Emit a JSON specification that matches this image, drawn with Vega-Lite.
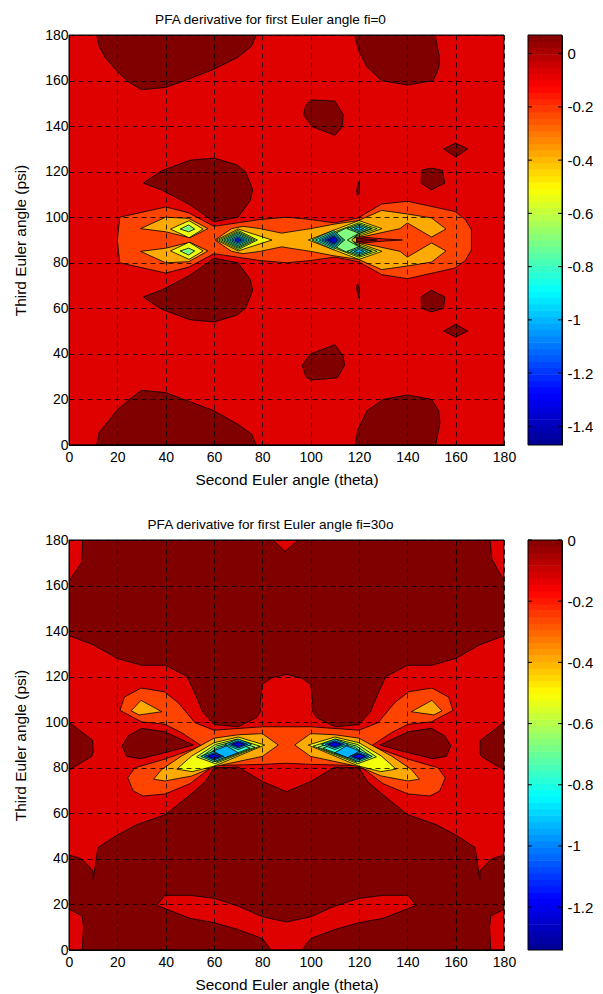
{"$schema":"https://vega.github.io/schema/vega-lite/v6.json","padding":{"left":13,"top":13,"right":0,"bottom":0},"spacing":30,"config":{"font":"Liberation Sans","view":{"stroke":null},"title":{"font":"Liberation Sans","fontSize":13.6,"fontWeight":"normal","color":"#000","offset":1},"axis":{"labelFont":"Liberation Sans","titleFont":"Liberation Sans","labelFontSize":14,"titleFontSize":15.4,"titleFontWeight":"normal","labelColor":"#000","titleColor":"#000"}},
"datasets":{
"bar1":[{"v":-1.458},{"v":-1.434},{"v":-1.41},{"v":-1.386},{"v":-1.362},{"v":-1.338},{"v":-1.314},{"v":-1.29},{"v":-1.265},{"v":-1.241},{"v":-1.217},{"v":-1.193},{"v":-1.169},{"v":-1.145},{"v":-1.121},{"v":-1.097},{"v":-1.073},{"v":-1.049},{"v":-1.025},{"v":-1.001},{"v":-0.977},{"v":-0.953},{"v":-0.929},{"v":-0.905},{"v":-0.881},{"v":-0.856},{"v":-0.832},{"v":-0.808},{"v":-0.784},{"v":-0.76},{"v":-0.736},{"v":-0.712},{"v":-0.688},{"v":-0.664},{"v":-0.64},{"v":-0.616},{"v":-0.592},{"v":-0.568},{"v":-0.544},{"v":-0.52},{"v":-0.496},{"v":-0.472},{"v":-0.447},{"v":-0.423},{"v":-0.399},{"v":-0.375},{"v":-0.351},{"v":-0.327},{"v":-0.303},{"v":-0.279},{"v":-0.255},{"v":-0.231},{"v":-0.207},{"v":-0.183},{"v":-0.159},{"v":-0.135},{"v":-0.111},{"v":-0.087},{"v":-0.063},{"v":-0.039},{"v":-0.015},{"v":0.009},{"v":0.033},{"v":0.057}],
"bar2":[{"v":-1.33},{"v":-1.309},{"v":-1.288},{"v":-1.267},{"v":-1.246},{"v":-1.225},{"v":-1.204},{"v":-1.183},{"v":-1.162},{"v":-1.142},{"v":-1.121},{"v":-1.1},{"v":-1.079},{"v":-1.058},{"v":-1.037},{"v":-1.016},{"v":-0.995},{"v":-0.974},{"v":-0.953},{"v":-0.932},{"v":-0.911},{"v":-0.89},{"v":-0.869},{"v":-0.848},{"v":-0.827},{"v":-0.806},{"v":-0.786},{"v":-0.765},{"v":-0.744},{"v":-0.723},{"v":-0.702},{"v":-0.681},{"v":-0.66},{"v":-0.639},{"v":-0.618},{"v":-0.597},{"v":-0.576},{"v":-0.555},{"v":-0.534},{"v":-0.513},{"v":-0.492},{"v":-0.471},{"v":-0.45},{"v":-0.43},{"v":-0.409},{"v":-0.388},{"v":-0.367},{"v":-0.346},{"v":-0.325},{"v":-0.304},{"v":-0.283},{"v":-0.262},{"v":-0.241},{"v":-0.22},{"v":-0.199},{"v":-0.178},{"v":-0.157},{"v":-0.136},{"v":-0.115},{"v":-0.094},{"v":-0.073},{"v":-0.052},{"v":-0.031},{"v":-0.01}],
"frame":[{"a":0,"b":180,"c":0,"d":180}],
"ticks1":[{"v":0},{"v":-0.2},{"v":-0.4},{"v":-0.6},{"v":-0.8},{"v":-1},{"v":-1.2},{"v":-1.4}],
"ticks2":[{"v":0},{"v":-0.2},{"v":-0.4},{"v":-0.6},{"v":-0.8},{"v":-1},{"v":-1.2}],
"p1":[
{"g":0,"v":-0.074,"x":0,"y":0},{"g":0,"v":-0.074,"x":180,"y":0},{"g":0,"v":-0.074,"x":180,"y":180},{"g":0,"v":-0.074,"x":0,"y":180},
{"g":1,"v":0.07,"x":11.5,"y":180},{"g":1,"v":0.07,"x":12.5,"y":175},{"g":1,"v":0.07,"x":15,"y":170},{"g":1,"v":0.07,"x":20,"y":164},{"g":1,"v":0.07,"x":24.5,"y":159.5},{"g":1,"v":0.07,"x":30,"y":156},{"g":1,"v":0.07,"x":40,"y":157},{"g":1,"v":0.07,"x":48,"y":160},{"g":1,"v":0.07,"x":60,"y":165},{"g":1,"v":0.07,"x":69.5,"y":170},{"g":1,"v":0.07,"x":75.5,"y":175},{"g":1,"v":0.07,"x":77.5,"y":180},{"g":1,"v":0.07,"x":11.5,"y":180},
{"g":2,"v":0.07,"x":118.3,"y":180},{"g":2,"v":0.07,"x":119.7,"y":173.5},{"g":2,"v":0.07,"x":123.3,"y":166},{"g":2,"v":0.07,"x":129.4,"y":160},{"g":2,"v":0.07,"x":140,"y":158},{"g":2,"v":0.07,"x":150.7,"y":160},{"g":2,"v":0.07,"x":153,"y":165.5},{"g":2,"v":0.07,"x":153.3,"y":170},{"g":2,"v":0.07,"x":151.5,"y":180},{"g":2,"v":0.07,"x":118.3,"y":180},
{"g":3,"v":0.07,"x":100,"y":151.5},{"g":3,"v":0.07,"x":110,"y":151},{"g":3,"v":0.07,"x":113.5,"y":145},{"g":3,"v":0.07,"x":113,"y":139.5},{"g":3,"v":0.07,"x":110,"y":136},{"g":3,"v":0.07,"x":100.7,"y":139.7},{"g":3,"v":0.07,"x":97,"y":145},{"g":3,"v":0.07,"x":98,"y":149},{"g":3,"v":0.07,"x":100,"y":151.5},
{"g":4,"v":0.07,"x":100,"y":40},{"g":4,"v":0.07,"x":110,"y":44},{"g":4,"v":0.07,"x":113.5,"y":39},{"g":4,"v":0.07,"x":114,"y":35},{"g":4,"v":0.07,"x":111,"y":29.5},{"g":4,"v":0.07,"x":100,"y":28.5},{"g":4,"v":0.07,"x":98,"y":30},{"g":4,"v":0.07,"x":96.5,"y":35},{"g":4,"v":0.07,"x":100,"y":40},
{"g":5,"v":0.07,"x":146,"y":120.7},{"g":5,"v":0.07,"x":150,"y":121.6},{"g":5,"v":0.07,"x":154.5,"y":120.5},{"g":5,"v":0.07,"x":155.5,"y":115},{"g":5,"v":0.07,"x":150,"y":112},{"g":5,"v":0.07,"x":145.7,"y":115},{"g":5,"v":0.07,"x":146,"y":120.7},
{"g":6,"v":0.07,"x":150,"y":68},{"g":6,"v":0.07,"x":155.5,"y":65},{"g":6,"v":0.07,"x":155,"y":60},{"g":6,"v":0.07,"x":150,"y":58.5},{"g":6,"v":0.07,"x":146,"y":60},{"g":6,"v":0.07,"x":145.7,"y":65},{"g":6,"v":0.07,"x":150,"y":68},
{"g":7,"v":0.07,"x":160,"y":132.5},{"g":7,"v":0.07,"x":165,"y":130},{"g":7,"v":0.07,"x":160,"y":126.5},{"g":7,"v":0.07,"x":155,"y":130},{"g":7,"v":0.07,"x":160,"y":132.5},
{"g":8,"v":0.07,"x":160,"y":53},{"g":8,"v":0.07,"x":165,"y":50},{"g":8,"v":0.07,"x":160,"y":47.4},{"g":8,"v":0.07,"x":155,"y":50},{"g":8,"v":0.07,"x":160,"y":53},
{"g":9,"v":0.07,"x":120,"y":115.6},{"g":9,"v":0.07,"x":120.3,"y":110.6},{"g":9,"v":0.07,"x":119.4,"y":109.5},{"g":9,"v":0.07,"x":119,"y":112},{"g":9,"v":0.07,"x":120,"y":115.6},
{"g":10,"v":0.07,"x":119.4,"y":70.7},{"g":10,"v":0.07,"x":120,"y":70},{"g":10,"v":0.07,"x":120,"y":64.5},{"g":10,"v":0.07,"x":119,"y":69},{"g":10,"v":0.07,"x":119.4,"y":70.7},
{"g":11,"v":0.07,"x":30.7,"y":115},{"g":11,"v":0.07,"x":38.3,"y":120.4},{"g":11,"v":0.07,"x":50,"y":125},{"g":11,"v":0.07,"x":60,"y":126},{"g":11,"v":0.07,"x":69.4,"y":123},{"g":11,"v":0.07,"x":73,"y":120},{"g":11,"v":0.07,"x":75,"y":115},{"g":11,"v":0.07,"x":76,"y":112},{"g":11,"v":0.07,"x":75,"y":107.5},{"g":11,"v":0.07,"x":70,"y":100},{"g":11,"v":0.07,"x":60,"y":98},{"g":11,"v":0.07,"x":50,"y":105.5},{"g":11,"v":0.07,"x":38.3,"y":112},{"g":11,"v":0.07,"x":30.7,"y":115},
{"g":12,"v":0.07,"x":30.7,"y":65},{"g":12,"v":0.07,"x":38.3,"y":68},{"g":12,"v":0.07,"x":50,"y":74.5},{"g":12,"v":0.07,"x":60,"y":82},{"g":12,"v":0.07,"x":70,"y":80},{"g":12,"v":0.07,"x":75,"y":72.5},{"g":12,"v":0.07,"x":76,"y":68},{"g":12,"v":0.07,"x":75,"y":65},{"g":12,"v":0.07,"x":73,"y":60},{"g":12,"v":0.07,"x":69.4,"y":57},{"g":12,"v":0.07,"x":60,"y":54},{"g":12,"v":0.07,"x":50,"y":55},{"g":12,"v":0.07,"x":38.3,"y":59.6},{"g":12,"v":0.07,"x":30.7,"y":65},
{"g":13,"v":0.07,"x":11.5,"y":0},{"g":13,"v":0.07,"x":12.5,"y":5.5},{"g":13,"v":0.07,"x":20,"y":15.4},{"g":13,"v":0.07,"x":24.4,"y":19.5},{"g":13,"v":0.07,"x":30,"y":24},{"g":13,"v":0.07,"x":40,"y":23},{"g":13,"v":0.07,"x":50,"y":19},{"g":13,"v":0.07,"x":60,"y":15},{"g":13,"v":0.07,"x":70,"y":9},{"g":13,"v":0.07,"x":75.6,"y":4.8},{"g":13,"v":0.07,"x":77.5,"y":0},{"g":13,"v":0.07,"x":11.5,"y":0},
{"g":14,"v":0.07,"x":118.5,"y":0},{"g":14,"v":0.07,"x":119.5,"y":6.6},{"g":14,"v":0.07,"x":123.3,"y":15},{"g":14,"v":0.07,"x":130,"y":20},{"g":14,"v":0.07,"x":140,"y":22},{"g":14,"v":0.07,"x":150,"y":20},{"g":14,"v":0.07,"x":153,"y":15},{"g":14,"v":0.07,"x":153.5,"y":9.5},{"g":14,"v":0.07,"x":151.7,"y":0},{"g":14,"v":0.07,"x":118.5,"y":0},
{"g":15,"v":-0.226,"x":20,"y":90},{"g":15,"v":-0.226,"x":21,"y":100},{"g":15,"v":-0.226,"x":29.4,"y":102},{"g":15,"v":-0.226,"x":40,"y":104.5},{"g":15,"v":-0.226,"x":49.4,"y":102},{"g":15,"v":-0.226,"x":60,"y":96},{"g":15,"v":-0.226,"x":79,"y":99},{"g":15,"v":-0.226,"x":90,"y":100},{"g":15,"v":-0.226,"x":100,"y":99},{"g":15,"v":-0.226,"x":110,"y":97.5},{"g":15,"v":-0.226,"x":119.7,"y":99.7},{"g":15,"v":-0.226,"x":129.4,"y":105.8},{"g":15,"v":-0.226,"x":140,"y":107},{"g":15,"v":-0.226,"x":159.7,"y":102.5},{"g":15,"v":-0.226,"x":164,"y":99},{"g":15,"v":-0.226,"x":166.5,"y":94.5},{"g":15,"v":-0.226,"x":166.5,"y":85.6},{"g":15,"v":-0.226,"x":164,"y":81},{"g":15,"v":-0.226,"x":159.7,"y":77.7},{"g":15,"v":-0.226,"x":140,"y":73},{"g":15,"v":-0.226,"x":129.4,"y":74.8},{"g":15,"v":-0.226,"x":119.7,"y":80.5},{"g":15,"v":-0.226,"x":110,"y":82.5},{"g":15,"v":-0.226,"x":100,"y":81},{"g":15,"v":-0.226,"x":90,"y":80},{"g":15,"v":-0.226,"x":79,"y":81},{"g":15,"v":-0.226,"x":60,"y":84},{"g":15,"v":-0.226,"x":49.4,"y":78},{"g":15,"v":-0.226,"x":40,"y":75.5},{"g":15,"v":-0.226,"x":29.4,"y":78},{"g":15,"v":-0.226,"x":21,"y":80},{"g":15,"v":-0.226,"x":20,"y":90},
{"g":16,"v":-0.379,"x":29.6,"y":95},{"g":16,"v":-0.379,"x":40,"y":100},{"g":16,"v":-0.379,"x":49.6,"y":99.5},{"g":16,"v":-0.379,"x":57.5,"y":95},{"g":16,"v":-0.379,"x":50,"y":91},{"g":16,"v":-0.379,"x":40,"y":93.6},{"g":16,"v":-0.379,"x":29.6,"y":95},
{"g":17,"v":-0.379,"x":29.6,"y":85},{"g":17,"v":-0.379,"x":40,"y":86.4},{"g":17,"v":-0.379,"x":50,"y":89},{"g":17,"v":-0.379,"x":57.5,"y":85.2},{"g":17,"v":-0.379,"x":49.6,"y":80.5},{"g":17,"v":-0.379,"x":40,"y":80},{"g":17,"v":-0.379,"x":29.6,"y":85},
{"g":18,"v":-0.53,"x":42,"y":94.8},{"g":18,"v":-0.53,"x":49.7,"y":98.5},{"g":18,"v":-0.53,"x":55.5,"y":94.8},{"g":18,"v":-0.53,"x":49.7,"y":91},{"g":18,"v":-0.53,"x":42,"y":94.8},
{"g":19,"v":-0.7,"x":46,"y":94.8},{"g":19,"v":-0.7,"x":49.5,"y":96.6},{"g":19,"v":-0.7,"x":52,"y":94.8},{"g":19,"v":-0.7,"x":49.5,"y":93.6},{"g":19,"v":-0.7,"x":46,"y":94.8},
{"g":20,"v":-0.53,"x":42,"y":85.2},{"g":20,"v":-0.53,"x":49.7,"y":81.5},{"g":20,"v":-0.53,"x":55.5,"y":85.2},{"g":20,"v":-0.53,"x":49.7,"y":89},{"g":20,"v":-0.53,"x":42,"y":85.2},
{"g":21,"v":-0.7,"x":46,"y":85.2},{"g":21,"v":-0.7,"x":49.5,"y":83.4},{"g":21,"v":-0.7,"x":52,"y":85.2},{"g":21,"v":-0.7,"x":49.5,"y":86.4},{"g":21,"v":-0.7,"x":46,"y":85.2},
{"g":22,"v":-0.379,"x":60.4,"y":90},{"g":22,"v":-0.379,"x":67.3,"y":95},{"g":22,"v":-0.379,"x":72,"y":96},{"g":22,"v":-0.379,"x":79,"y":95},{"g":22,"v":-0.379,"x":88,"y":93},{"g":22,"v":-0.379,"x":91.5,"y":93.6},{"g":22,"v":-0.379,"x":100,"y":95},{"g":22,"v":-0.379,"x":110,"y":97},{"g":22,"v":-0.379,"x":119.7,"y":98.5},{"g":22,"v":-0.379,"x":129.4,"y":103},{"g":22,"v":-0.379,"x":140,"y":101.4},{"g":22,"v":-0.379,"x":150,"y":99.7},{"g":22,"v":-0.379,"x":156,"y":94.8},{"g":22,"v":-0.379,"x":150,"y":91.3},{"g":22,"v":-0.379,"x":140,"y":97.5},{"g":22,"v":-0.379,"x":137,"y":95},{"g":22,"v":-0.379,"x":119.7,"y":91},{"g":22,"v":-0.379,"x":119.7,"y":89},{"g":22,"v":-0.379,"x":137,"y":85},{"g":22,"v":-0.379,"x":140,"y":82.5},{"g":22,"v":-0.379,"x":150,"y":88.7},{"g":22,"v":-0.379,"x":156,"y":85.2},{"g":22,"v":-0.379,"x":150,"y":80.3},{"g":22,"v":-0.379,"x":140,"y":78.6},{"g":22,"v":-0.379,"x":129.4,"y":77},{"g":22,"v":-0.379,"x":119.7,"y":81.5},{"g":22,"v":-0.379,"x":110,"y":83},{"g":22,"v":-0.379,"x":100,"y":85},{"g":22,"v":-0.379,"x":91.5,"y":86.4},{"g":22,"v":-0.379,"x":88,"y":87},{"g":22,"v":-0.379,"x":79,"y":85},{"g":22,"v":-0.379,"x":72,"y":84},{"g":22,"v":-0.379,"x":67.3,"y":85},{"g":22,"v":-0.379,"x":60.4,"y":90},
{"g":23,"v":-0.074,"x":119,"y":91.5},{"g":23,"v":-0.074,"x":130,"y":90.5},{"g":23,"v":-0.074,"x":138,"y":90},{"g":23,"v":-0.074,"x":130,"y":89.5},{"g":23,"v":-0.074,"x":119,"y":88.5},{"g":23,"v":-0.074,"x":119,"y":91.5},
{"g":24,"v":0.07,"x":119,"y":90.8},{"g":24,"v":0.07,"x":127.5,"y":90},{"g":24,"v":0.07,"x":119,"y":89.2},{"g":24,"v":0.07,"x":119,"y":90.8},
{"g":25,"v":-0.53,"x":61,"y":90},{"g":25,"v":-0.53,"x":70,"y":94.8},{"g":25,"v":-0.53,"x":79,"y":91.7},{"g":25,"v":-0.53,"x":84,"y":90},{"g":25,"v":-0.53,"x":79,"y":88.3},{"g":25,"v":-0.53,"x":70,"y":85.2},{"g":25,"v":-0.53,"x":61,"y":90},
{"g":26,"v":-0.6,"x":62,"y":90},{"g":26,"v":-0.6,"x":70,"y":94.2},{"g":26,"v":-0.6,"x":78,"y":90},{"g":26,"v":-0.6,"x":70,"y":85.8},{"g":26,"v":-0.6,"x":62,"y":90},
{"g":27,"v":-0.68,"x":63.1,"y":90},{"g":27,"v":-0.68,"x":70,"y":93.6},{"g":27,"v":-0.68,"x":76.9,"y":90},{"g":27,"v":-0.68,"x":70,"y":86.4},{"g":27,"v":-0.68,"x":63.1,"y":90},
{"g":28,"v":-0.76,"x":64.2,"y":90},{"g":28,"v":-0.76,"x":70,"y":93.1},{"g":28,"v":-0.76,"x":75.8,"y":90},{"g":28,"v":-0.76,"x":70,"y":86.9},{"g":28,"v":-0.76,"x":64.2,"y":90},
{"g":29,"v":-0.84,"x":65.3,"y":90},{"g":29,"v":-0.84,"x":70,"y":92.5},{"g":29,"v":-0.84,"x":74.7,"y":90},{"g":29,"v":-0.84,"x":70,"y":87.5},{"g":29,"v":-0.84,"x":65.3,"y":90},
{"g":30,"v":-0.95,"x":66.4,"y":90},{"g":30,"v":-0.95,"x":70,"y":91.9},{"g":30,"v":-0.95,"x":73.6,"y":90},{"g":30,"v":-0.95,"x":70,"y":88.1},{"g":30,"v":-0.95,"x":66.4,"y":90},
{"g":31,"v":-1.05,"x":67.5,"y":90},{"g":31,"v":-1.05,"x":70,"y":91.3},{"g":31,"v":-1.05,"x":72.5,"y":90},{"g":31,"v":-1.05,"x":70,"y":88.7},{"g":31,"v":-1.05,"x":67.5,"y":90},
{"g":32,"v":-1.25,"x":68.6,"y":90},{"g":32,"v":-1.25,"x":70,"y":90.8},{"g":32,"v":-1.25,"x":71.4,"y":90},{"g":32,"v":-1.25,"x":70,"y":89.2},{"g":32,"v":-1.25,"x":68.6,"y":90},
{"g":33,"v":-0.53,"x":99,"y":90},{"g":33,"v":-0.53,"x":120,"y":98.5},{"g":33,"v":-0.53,"x":129.5,"y":95},{"g":33,"v":-0.53,"x":120,"y":91.5},{"g":33,"v":-0.53,"x":115.5,"y":90},{"g":33,"v":-0.53,"x":120,"y":88.5},{"g":33,"v":-0.53,"x":129.5,"y":85},{"g":33,"v":-0.53,"x":120,"y":81.5},{"g":33,"v":-0.53,"x":99,"y":90},
{"g":34,"v":-0.58,"x":101,"y":90},{"g":34,"v":-0.58,"x":120,"y":97.6},{"g":34,"v":-0.58,"x":127.5,"y":95},{"g":34,"v":-0.58,"x":120,"y":92.2},{"g":34,"v":-0.58,"x":116,"y":90},{"g":34,"v":-0.58,"x":120,"y":87.8},{"g":34,"v":-0.58,"x":127.5,"y":85},{"g":34,"v":-0.58,"x":120,"y":82.4},{"g":34,"v":-0.58,"x":101,"y":90},
{"g":35,"v":-0.63,"x":103,"y":90},{"g":35,"v":-0.63,"x":120,"y":96.8},{"g":35,"v":-0.63,"x":125.5,"y":95},{"g":35,"v":-0.63,"x":120,"y":92.8},{"g":35,"v":-0.63,"x":116.5,"y":90},{"g":35,"v":-0.63,"x":120,"y":87.2},{"g":35,"v":-0.63,"x":125.5,"y":85},{"g":35,"v":-0.63,"x":120,"y":83.2},{"g":35,"v":-0.63,"x":103,"y":90},
{"g":36,"v":-0.67,"x":105,"y":90},{"g":36,"v":-0.67,"x":119,"y":96.2},{"g":36,"v":-0.67,"x":124,"y":95},{"g":36,"v":-0.67,"x":120,"y":93.2},{"g":36,"v":-0.67,"x":117,"y":90},{"g":36,"v":-0.67,"x":120,"y":86.8},{"g":36,"v":-0.67,"x":124,"y":85},{"g":36,"v":-0.67,"x":119,"y":83.8},{"g":36,"v":-0.67,"x":105,"y":90},
{"g":37,"v":-0.7,"x":110.3,"y":93},{"g":37,"v":-0.7,"x":115.2,"y":95.5},{"g":37,"v":-0.7,"x":120,"y":93},{"g":37,"v":-0.7,"x":115.2,"y":90},{"g":37,"v":-0.7,"x":120,"y":87},{"g":37,"v":-0.7,"x":115.2,"y":84.5},{"g":37,"v":-0.7,"x":110.3,"y":87},{"g":37,"v":-0.7,"x":114,"y":90},{"g":37,"v":-0.7,"x":110.3,"y":93},
{"g":38,"v":-0.75,"x":100.5,"y":90},{"g":38,"v":-0.75,"x":109.5,"y":94.3},{"g":38,"v":-0.75,"x":114,"y":90},{"g":38,"v":-0.75,"x":109.5,"y":85.7},{"g":38,"v":-0.75,"x":100.5,"y":90},
{"g":39,"v":-0.85,"x":102,"y":90},{"g":39,"v":-0.85,"x":109.5,"y":93.6},{"g":39,"v":-0.85,"x":113.3,"y":90},{"g":39,"v":-0.85,"x":109.5,"y":86.4},{"g":39,"v":-0.85,"x":102,"y":90},
{"g":40,"v":-0.95,"x":103.5,"y":90},{"g":40,"v":-0.95,"x":109.5,"y":93},{"g":40,"v":-0.95,"x":112.6,"y":90},{"g":40,"v":-0.95,"x":109.5,"y":87},{"g":40,"v":-0.95,"x":103.5,"y":90},
{"g":41,"v":-1.05,"x":104.7,"y":90},{"g":41,"v":-1.05,"x":109.5,"y":92.4},{"g":41,"v":-1.05,"x":112,"y":90},{"g":41,"v":-1.05,"x":109.5,"y":87.6},{"g":41,"v":-1.05,"x":104.7,"y":90},
{"g":42,"v":-1.15,"x":105.9,"y":90},{"g":42,"v":-1.15,"x":109.5,"y":91.8},{"g":42,"v":-1.15,"x":111.4,"y":90},{"g":42,"v":-1.15,"x":109.5,"y":88.2},{"g":42,"v":-1.15,"x":105.9,"y":90},
{"g":43,"v":-1.3,"x":107.1,"y":90},{"g":43,"v":-1.3,"x":109.5,"y":91.2},{"g":43,"v":-1.3,"x":110.8,"y":90},{"g":43,"v":-1.3,"x":109.5,"y":88.8},{"g":43,"v":-1.3,"x":107.1,"y":90},
{"g":44,"v":-0.75,"x":115,"y":95},{"g":44,"v":-0.75,"x":120,"y":97},{"g":44,"v":-0.75,"x":125,"y":95},{"g":44,"v":-0.75,"x":120,"y":93},{"g":44,"v":-0.75,"x":115,"y":95},
{"g":45,"v":-0.85,"x":116.5,"y":95},{"g":45,"v":-0.85,"x":120,"y":96.4},{"g":45,"v":-0.85,"x":123.5,"y":95},{"g":45,"v":-0.85,"x":120,"y":93.6},{"g":45,"v":-0.85,"x":116.5,"y":95},
{"g":46,"v":-1.01,"x":118,"y":95},{"g":46,"v":-1.01,"x":120,"y":95.8},{"g":46,"v":-1.01,"x":122,"y":95},{"g":46,"v":-1.01,"x":120,"y":94.2},{"g":46,"v":-1.01,"x":118,"y":95},
{"g":47,"v":-0.75,"x":115,"y":85},{"g":47,"v":-0.75,"x":120,"y":87},{"g":47,"v":-0.75,"x":125,"y":85},{"g":47,"v":-0.75,"x":120,"y":83},{"g":47,"v":-0.75,"x":115,"y":85},
{"g":48,"v":-0.85,"x":116.5,"y":85},{"g":48,"v":-0.85,"x":120,"y":86.4},{"g":48,"v":-0.85,"x":123.5,"y":85},{"g":48,"v":-0.85,"x":120,"y":83.6},{"g":48,"v":-0.85,"x":116.5,"y":85},
{"g":49,"v":-1.01,"x":118,"y":85},{"g":49,"v":-1.01,"x":120,"y":85.8},{"g":49,"v":-1.01,"x":122,"y":85},{"g":49,"v":-1.01,"x":120,"y":84.2},{"g":49,"v":-1.01,"x":118,"y":85}
],
"p2":[
{"g":0,"v":-0.125,"x":0,"y":0},{"g":0,"v":-0.125,"x":180,"y":0},{"g":0,"v":-0.125,"x":180,"y":180},{"g":0,"v":-0.125,"x":0,"y":180},
{"g":1,"v":0,"x":0,"y":162},{"g":1,"v":0,"x":5.2,"y":170},{"g":1,"v":0,"x":5.7,"y":180},{"g":1,"v":0,"x":84.4,"y":180},{"g":1,"v":0,"x":89.4,"y":175},{"g":1,"v":0,"x":95,"y":180},{"g":1,"v":0,"x":174.2,"y":180},{"g":1,"v":0,"x":175,"y":171.6},{"g":1,"v":0,"x":180,"y":162},{"g":1,"v":0,"x":180,"y":138},{"g":1,"v":0,"x":170,"y":134},{"g":1,"v":0,"x":160,"y":128},{"g":1,"v":0,"x":150,"y":125},{"g":1,"v":0,"x":140,"y":125},{"g":1,"v":0,"x":131,"y":120},{"g":1,"v":0,"x":125.6,"y":107},{"g":1,"v":0,"x":125,"y":105},{"g":1,"v":0,"x":120,"y":99},{"g":1,"v":0,"x":110,"y":98},{"g":1,"v":0,"x":102.5,"y":102},{"g":1,"v":0,"x":100.7,"y":105},{"g":1,"v":0,"x":101,"y":107},{"g":1,"v":0,"x":100,"y":116.7},{"g":1,"v":0,"x":96,"y":119.5},{"g":1,"v":0,"x":90,"y":121},{"g":1,"v":0,"x":84,"y":119.5},{"g":1,"v":0,"x":80,"y":116.7},{"g":1,"v":0,"x":79,"y":107},{"g":1,"v":0,"x":79.3,"y":105},{"g":1,"v":0,"x":77.5,"y":102},{"g":1,"v":0,"x":70,"y":98},{"g":1,"v":0,"x":60,"y":99},{"g":1,"v":0,"x":55,"y":105},{"g":1,"v":0,"x":54.4,"y":107},{"g":1,"v":0,"x":49,"y":120},{"g":1,"v":0,"x":40,"y":125},{"g":1,"v":0,"x":30,"y":125},{"g":1,"v":0,"x":20,"y":128},{"g":1,"v":0,"x":10,"y":134},{"g":1,"v":0,"x":0,"y":138},{"g":1,"v":0,"x":0,"y":162},
{"g":2,"v":0,"x":12,"y":45},{"g":2,"v":0,"x":20,"y":50.5},{"g":2,"v":0,"x":28,"y":55},{"g":2,"v":0,"x":40,"y":59.5},{"g":2,"v":0,"x":52,"y":69.8},{"g":2,"v":0,"x":56.5,"y":74},{"g":2,"v":0,"x":60,"y":80},{"g":2,"v":0,"x":70,"y":80.3},{"g":2,"v":0,"x":80,"y":74},{"g":2,"v":0,"x":90,"y":69.5},{"g":2,"v":0,"x":100,"y":74},{"g":2,"v":0,"x":110,"y":80.3},{"g":2,"v":0,"x":120,"y":80},{"g":2,"v":0,"x":123.5,"y":74},{"g":2,"v":0,"x":128,"y":69.8},{"g":2,"v":0,"x":140,"y":59.5},{"g":2,"v":0,"x":152,"y":55},{"g":2,"v":0,"x":160,"y":50.5},{"g":2,"v":0,"x":168,"y":45},{"g":2,"v":0,"x":170,"y":31},{"g":2,"v":0,"x":170,"y":34.7},{"g":2,"v":0,"x":174.8,"y":40},{"g":2,"v":0,"x":180,"y":41.7},{"g":2,"v":0,"x":180,"y":17.9},{"g":2,"v":0,"x":174.5,"y":14.9},{"g":2,"v":0,"x":174,"y":9.8},{"g":2,"v":0,"x":174.5,"y":0},{"g":2,"v":0,"x":96.4,"y":0},{"g":2,"v":0,"x":100,"y":5},{"g":2,"v":0,"x":110,"y":9},{"g":2,"v":0,"x":120,"y":12},{"g":2,"v":0,"x":130,"y":13.9},{"g":2,"v":0,"x":143.7,"y":19.6},{"g":2,"v":0,"x":140.3,"y":24},{"g":2,"v":0,"x":130,"y":24},{"g":2,"v":0,"x":120,"y":22.7},{"g":2,"v":0,"x":110,"y":19.3},{"g":2,"v":0,"x":100,"y":14.6},{"g":2,"v":0,"x":90,"y":12.3},{"g":2,"v":0,"x":80,"y":14.6},{"g":2,"v":0,"x":70,"y":19.3},{"g":2,"v":0,"x":60,"y":22.7},{"g":2,"v":0,"x":50,"y":24},{"g":2,"v":0,"x":39.7,"y":24},{"g":2,"v":0,"x":36.3,"y":19.6},{"g":2,"v":0,"x":50,"y":13.9},{"g":2,"v":0,"x":60,"y":12},{"g":2,"v":0,"x":70,"y":9},{"g":2,"v":0,"x":80,"y":5},{"g":2,"v":0,"x":83.6,"y":0},{"g":2,"v":0,"x":5.5,"y":0},{"g":2,"v":0,"x":6,"y":9.8},{"g":2,"v":0,"x":5.5,"y":14.9},{"g":2,"v":0,"x":0,"y":17.9},{"g":2,"v":0,"x":0,"y":41.7},{"g":2,"v":0,"x":5.2,"y":40},{"g":2,"v":0,"x":10,"y":34.7},{"g":2,"v":0,"x":10,"y":31},{"g":2,"v":0,"x":12,"y":45},
{"g":3,"v":0,"x":0,"y":100},{"g":3,"v":0,"x":9.8,"y":92},{"g":3,"v":0,"x":10,"y":87},{"g":3,"v":0,"x":9.4,"y":85},{"g":3,"v":0,"x":0,"y":79},{"g":3,"v":0,"x":0,"y":100},
{"g":4,"v":0,"x":180,"y":100},{"g":4,"v":0,"x":170.2,"y":92},{"g":4,"v":0,"x":170,"y":87},{"g":4,"v":0,"x":170.6,"y":85},{"g":4,"v":0,"x":180,"y":79},{"g":4,"v":0,"x":180,"y":100},
{"g":5,"v":0,"x":30,"y":97.3},{"g":5,"v":0,"x":39.7,"y":95.8},{"g":5,"v":0,"x":51.4,"y":90},{"g":5,"v":0,"x":39.7,"y":86.6},{"g":5,"v":0,"x":29.4,"y":84},{"g":5,"v":0,"x":23.9,"y":85},{"g":5,"v":0,"x":22,"y":89.6},{"g":5,"v":0,"x":24.5,"y":94},{"g":5,"v":0,"x":30,"y":97.3},
{"g":6,"v":0,"x":150,"y":97.3},{"g":6,"v":0,"x":140.3,"y":95.8},{"g":6,"v":0,"x":128.6,"y":90},{"g":6,"v":0,"x":140.3,"y":86.6},{"g":6,"v":0,"x":150.6,"y":84},{"g":6,"v":0,"x":156.1,"y":85},{"g":6,"v":0,"x":158,"y":89.6},{"g":6,"v":0,"x":155.5,"y":94},{"g":6,"v":0,"x":150,"y":97.3},
{"g":7,"v":-0.257,"x":21.1,"y":105.2},{"g":7,"v":-0.257,"x":22.9,"y":111},{"g":7,"v":-0.257,"x":29.8,"y":115},{"g":7,"v":-0.257,"x":39.4,"y":113.4},{"g":7,"v":-0.257,"x":45.2,"y":108.6},{"g":7,"v":-0.257,"x":52.1,"y":99.8},{"g":7,"v":-0.257,"x":60,"y":96.5},{"g":7,"v":-0.257,"x":80,"y":98},{"g":7,"v":-0.257,"x":90,"y":98},{"g":7,"v":-0.257,"x":100,"y":98},{"g":7,"v":-0.257,"x":120,"y":96.5},{"g":7,"v":-0.257,"x":127.9,"y":99.8},{"g":7,"v":-0.257,"x":134.8,"y":108.6},{"g":7,"v":-0.257,"x":140.6,"y":113.4},{"g":7,"v":-0.257,"x":150.2,"y":115},{"g":7,"v":-0.257,"x":157.1,"y":111},{"g":7,"v":-0.257,"x":158.9,"y":105.2},{"g":7,"v":-0.257,"x":150,"y":100.2},{"g":7,"v":-0.257,"x":140.3,"y":99.1},{"g":7,"v":-0.257,"x":133.4,"y":95.4},{"g":7,"v":-0.257,"x":125.1,"y":89.6},{"g":7,"v":-0.257,"x":140.3,"y":83.8},{"g":7,"v":-0.257,"x":152.7,"y":80},{"g":7,"v":-0.257,"x":155.7,"y":75.6},{"g":7,"v":-0.257,"x":153.4,"y":69.8},{"g":7,"v":-0.257,"x":149.3,"y":67.6},{"g":7,"v":-0.257,"x":140.3,"y":68.5},{"g":7,"v":-0.257,"x":130,"y":73},{"g":7,"v":-0.257,"x":120,"y":81},{"g":7,"v":-0.257,"x":100,"y":81.5},{"g":7,"v":-0.257,"x":90,"y":82},{"g":7,"v":-0.257,"x":80,"y":81.5},{"g":7,"v":-0.257,"x":60,"y":81},{"g":7,"v":-0.257,"x":50,"y":73},{"g":7,"v":-0.257,"x":39.7,"y":68.5},{"g":7,"v":-0.257,"x":30.7,"y":67.6},{"g":7,"v":-0.257,"x":26.6,"y":69.8},{"g":7,"v":-0.257,"x":24.3,"y":75.6},{"g":7,"v":-0.257,"x":27.3,"y":80},{"g":7,"v":-0.257,"x":39.7,"y":83.8},{"g":7,"v":-0.257,"x":54.9,"y":89.6},{"g":7,"v":-0.257,"x":46.6,"y":95.4},{"g":7,"v":-0.257,"x":39.7,"y":99.1},{"g":7,"v":-0.257,"x":30,"y":100.2},{"g":7,"v":-0.257,"x":21.1,"y":105.2},
{"g":8,"v":-0.391,"x":29.8,"y":109.6},{"g":8,"v":-0.391,"x":38.4,"y":104.6},{"g":8,"v":-0.391,"x":29,"y":103.2},{"g":8,"v":-0.391,"x":25.7,"y":105},{"g":8,"v":-0.391,"x":29.8,"y":109.6},
{"g":9,"v":-0.391,"x":150.2,"y":109.6},{"g":9,"v":-0.391,"x":141.6,"y":104.6},{"g":9,"v":-0.391,"x":151,"y":103.2},{"g":9,"v":-0.391,"x":154.3,"y":105},{"g":9,"v":-0.391,"x":150.2,"y":109.6},
{"g":10,"v":-0.391,"x":35,"y":75},{"g":10,"v":-0.391,"x":38.4,"y":79.3},{"g":10,"v":-0.391,"x":46.6,"y":85.2},{"g":10,"v":-0.391,"x":60,"y":93},{"g":10,"v":-0.391,"x":70,"y":94.5},{"g":10,"v":-0.391,"x":80,"y":95},{"g":10,"v":-0.391,"x":86.6,"y":90},{"g":10,"v":-0.391,"x":80,"y":85},{"g":10,"v":-0.391,"x":60,"y":80.5},{"g":10,"v":-0.391,"x":50.8,"y":76.4},{"g":10,"v":-0.391,"x":39.7,"y":74.2},{"g":10,"v":-0.391,"x":35,"y":75},
{"g":11,"v":-0.391,"x":145,"y":75},{"g":11,"v":-0.391,"x":141.6,"y":79.3},{"g":11,"v":-0.391,"x":133.4,"y":85.2},{"g":11,"v":-0.391,"x":120,"y":93},{"g":11,"v":-0.391,"x":110,"y":94.5},{"g":11,"v":-0.391,"x":100,"y":95},{"g":11,"v":-0.391,"x":93.4,"y":90},{"g":11,"v":-0.391,"x":100,"y":85},{"g":11,"v":-0.391,"x":120,"y":80.5},{"g":11,"v":-0.391,"x":129.2,"y":76.4},{"g":11,"v":-0.391,"x":140.3,"y":74.2},{"g":11,"v":-0.391,"x":145,"y":75},
{"g":12,"v":-0.52,"x":44.6,"y":79.4},{"g":12,"v":-0.52,"x":50.8,"y":85.2},{"g":12,"v":-0.52,"x":60,"y":91},{"g":12,"v":-0.52,"x":70,"y":93.5},{"g":12,"v":-0.52,"x":81,"y":90},{"g":12,"v":-0.52,"x":60,"y":80.7},{"g":12,"v":-0.52,"x":51,"y":78.3},{"g":12,"v":-0.52,"x":44.6,"y":79.4},
{"g":13,"v":-0.6,"x":52.8,"y":84.8},{"g":13,"v":-0.6,"x":60.5,"y":90.2},{"g":13,"v":-0.6,"x":69.6,"y":92.6},{"g":13,"v":-0.6,"x":79,"y":89.5},{"g":13,"v":-0.6,"x":60.5,"y":81.8},{"g":13,"v":-0.6,"x":52.8,"y":84.8},
{"g":14,"v":-0.68,"x":55,"y":85},{"g":14,"v":-0.68,"x":61,"y":89.5},{"g":14,"v":-0.68,"x":69.2,"y":91.8},{"g":14,"v":-0.68,"x":77,"y":89},{"g":14,"v":-0.68,"x":61,"y":82.6},{"g":14,"v":-0.68,"x":55,"y":85},
{"g":15,"v":-0.76,"x":57,"y":85.3},{"g":15,"v":-0.76,"x":61.5,"y":88.9},{"g":15,"v":-0.76,"x":68.8,"y":91},{"g":15,"v":-0.76,"x":75,"y":88.6},{"g":15,"v":-0.76,"x":61.5,"y":83.4},{"g":15,"v":-0.76,"x":57,"y":85.3},
{"g":16,"v":-0.85,"x":64.5,"y":90.3},{"g":16,"v":-0.85,"x":70,"y":92.6},{"g":16,"v":-0.85,"x":75.5,"y":90.3},{"g":16,"v":-0.85,"x":70,"y":88},{"g":16,"v":-0.85,"x":64.5,"y":90.3},
{"g":17,"v":-0.85,"x":54.5,"y":85},{"g":17,"v":-0.85,"x":60,"y":87.3},{"g":17,"v":-0.85,"x":65.5,"y":85},{"g":17,"v":-0.85,"x":60,"y":82.7},{"g":17,"v":-0.85,"x":54.5,"y":85},
{"g":18,"v":-0.938,"x":59.7,"y":87.4},{"g":18,"v":-0.938,"x":65.2,"y":89.6},{"g":18,"v":-0.938,"x":70,"y":86.6},{"g":18,"v":-0.938,"x":64.5,"y":84.4},{"g":18,"v":-0.938,"x":59.7,"y":87.4},
{"g":19,"v":-1.05,"x":66,"y":90.3},{"g":19,"v":-1.05,"x":70,"y":91.9},{"g":19,"v":-1.05,"x":74,"y":90.3},{"g":19,"v":-1.05,"x":70,"y":88.7},{"g":19,"v":-1.05,"x":66,"y":90.3},
{"g":20,"v":-1.2,"x":67.3,"y":90.3},{"g":20,"v":-1.2,"x":70,"y":91.3},{"g":20,"v":-1.2,"x":72.7,"y":90.3},{"g":20,"v":-1.2,"x":70,"y":89.3},{"g":20,"v":-1.2,"x":67.3,"y":90.3},
{"g":21,"v":-1.05,"x":56,"y":85},{"g":21,"v":-1.05,"x":60,"y":86.6},{"g":21,"v":-1.05,"x":64,"y":85},{"g":21,"v":-1.05,"x":60,"y":83.4},{"g":21,"v":-1.05,"x":56,"y":85},
{"g":22,"v":-1.2,"x":57.3,"y":85},{"g":22,"v":-1.2,"x":60,"y":86},{"g":22,"v":-1.2,"x":62.7,"y":85},{"g":22,"v":-1.2,"x":60,"y":84},{"g":22,"v":-1.2,"x":57.3,"y":85},
{"g":23,"v":-0.52,"x":135.4,"y":79.4},{"g":23,"v":-0.52,"x":129.2,"y":85.2},{"g":23,"v":-0.52,"x":120,"y":91},{"g":23,"v":-0.52,"x":110,"y":93.5},{"g":23,"v":-0.52,"x":99,"y":90},{"g":23,"v":-0.52,"x":120,"y":80.7},{"g":23,"v":-0.52,"x":129,"y":78.3},{"g":23,"v":-0.52,"x":135.4,"y":79.4},
{"g":24,"v":-0.6,"x":127.2,"y":84.8},{"g":24,"v":-0.6,"x":119.5,"y":90.2},{"g":24,"v":-0.6,"x":110.4,"y":92.6},{"g":24,"v":-0.6,"x":101,"y":89.5},{"g":24,"v":-0.6,"x":119.5,"y":81.8},{"g":24,"v":-0.6,"x":127.2,"y":84.8},
{"g":25,"v":-0.68,"x":125,"y":85},{"g":25,"v":-0.68,"x":119,"y":89.5},{"g":25,"v":-0.68,"x":110.8,"y":91.8},{"g":25,"v":-0.68,"x":103,"y":89},{"g":25,"v":-0.68,"x":119,"y":82.6},{"g":25,"v":-0.68,"x":125,"y":85},
{"g":26,"v":-0.76,"x":123,"y":85.3},{"g":26,"v":-0.76,"x":118.5,"y":88.9},{"g":26,"v":-0.76,"x":111.2,"y":91},{"g":26,"v":-0.76,"x":105,"y":88.6},{"g":26,"v":-0.76,"x":118.5,"y":83.4},{"g":26,"v":-0.76,"x":123,"y":85.3},
{"g":27,"v":-0.85,"x":115.5,"y":90.3},{"g":27,"v":-0.85,"x":110,"y":92.6},{"g":27,"v":-0.85,"x":104.5,"y":90.3},{"g":27,"v":-0.85,"x":110,"y":88},{"g":27,"v":-0.85,"x":115.5,"y":90.3},
{"g":28,"v":-0.85,"x":125.5,"y":85},{"g":28,"v":-0.85,"x":120,"y":87.3},{"g":28,"v":-0.85,"x":114.5,"y":85},{"g":28,"v":-0.85,"x":120,"y":82.7},{"g":28,"v":-0.85,"x":125.5,"y":85},
{"g":29,"v":-0.938,"x":120.3,"y":87.4},{"g":29,"v":-0.938,"x":114.8,"y":89.6},{"g":29,"v":-0.938,"x":110,"y":86.6},{"g":29,"v":-0.938,"x":115.5,"y":84.4},{"g":29,"v":-0.938,"x":120.3,"y":87.4},
{"g":30,"v":-1.05,"x":114,"y":90.3},{"g":30,"v":-1.05,"x":110,"y":91.9},{"g":30,"v":-1.05,"x":106,"y":90.3},{"g":30,"v":-1.05,"x":110,"y":88.7},{"g":30,"v":-1.05,"x":114,"y":90.3},
{"g":31,"v":-1.2,"x":112.7,"y":90.3},{"g":31,"v":-1.2,"x":110,"y":91.3},{"g":31,"v":-1.2,"x":107.3,"y":90.3},{"g":31,"v":-1.2,"x":110,"y":89.3},{"g":31,"v":-1.2,"x":112.7,"y":90.3},
{"g":32,"v":-1.05,"x":124,"y":85},{"g":32,"v":-1.05,"x":120,"y":86.6},{"g":32,"v":-1.05,"x":116,"y":85},{"g":32,"v":-1.05,"x":120,"y":83.4},{"g":32,"v":-1.05,"x":124,"y":85},
{"g":33,"v":-1.2,"x":122.7,"y":85},{"g":33,"v":-1.2,"x":120,"y":86},{"g":33,"v":-1.2,"x":117.3,"y":85},{"g":33,"v":-1.2,"x":120,"y":84},{"g":33,"v":-1.2,"x":122.7,"y":85}
]},
"vconcat":[
{"spacing":11,"hconcat":[
{"width":435,"height":410,"title":{"text":"PFA derivative for first Euler angle fi=0","dx":-16},"layer":[
{"data":{"name":"p1"},"transform":[{"window":[{"op":"row_number","as":"i"}]}],"mark":{"type":"line","stroke":"#000","strokeWidth":0.8,"clip":true,"strokeJoin":"miter"},"encoding":{"x":{"field":"x","type":"quantitative","scale":{"domain":[0,180],"nice":false},"title":"Second Euler angle (theta)","axis":{"values":[0,20,40,60,80,100,120,140,160,180],"grid":true,"gridColor":"#000","gridOpacity":1,"gridDash":[5,4],"gridWidth":0.8,"zindex":1,"domainColor":"#000","tickSize":-4,"tickColor":"#000","labelPadding":9,"titlePadding":8,"labelAngle":0,"labelFlush":false}},"y":{"field":"y","type":"quantitative","scale":{"domain":[0,180],"nice":false},"title":"Third Euler angle (psi)","axis":{"values":[0,20,40,60,80,100,120,140,160,180],"grid":true,"gridColor":"#000","gridOpacity":1,"gridDash":[5,4],"gridWidth":0.8,"zindex":1,"domainColor":"#000","tickSize":-4,"tickColor":"#000","labelPadding":5,"titlePadding":16}},"detail":{"field":"g"},"order":{"field":"i","type":"quantitative"},"fill":{"field":"v","type":"ordinal","legend":null,"scale":{"domain":[0.07,-0.074,-0.226,-0.379,-0.53,-0.58,-0.6,-0.63,-0.67,-0.68,-0.7,-0.75,-0.76,-0.84,-0.85,-0.95,-1.01,-1.05,-1.15,-1.25,-1.3],"range":["#800000","#df0000","#ff4400","#ffaa00","#f0ff0f","#cfff30","#c2ff3d","#aeff51","#93ff6c","#8dff72","#80ff80","#5effa0","#58ffa7","#23ffdc","#1cffe3","#00d9ff","#00b1ff","#0097ff","#0054ff","#0012ff","#0000f2"]}}}},
{"data":{"name":"frame"},"mark":{"type":"rect","fill":null,"stroke":"#000","strokeWidth":1},"encoding":{"x":{"field":"a","type":"quantitative"},"x2":{"field":"b"},"y":{"field":"c","type":"quantitative"},"y2":{"field":"d"}}}]},
{"width":34,"height":410,"layer":[
{"data":{"name":"bar1"},"mark":{"type":"rect","height":7,"clip":true},"encoding":{"y":{"field":"v","type":"quantitative","scale":{"domain":[-1.47,0.07],"nice":false,"zero":false},"title":null,"axis":{"orient":"right","values":[0,-0.2,-0.4,-0.6,-0.8,-1,-1.2,-1.4],"labelExpr":"toString(datum.value)","labelFontSize":15,"grid":false,"domainColor":"#000","ticks":false,"labelPadding":5,"zindex":1}},"fill":{"field":"v","type":"quantitative","legend":null,"scale":{"interpolate":"rgb","domain":[-1.47,-1.2775,-0.8925,-0.5075,-0.1225,0.07],"range":["#00008f","#0000ff","#00ffff","#ffff00","#ff0000","#800000"]}}}},
{"data":{"name":"ticks1"},"mark":{"type":"rule","stroke":"#000","strokeWidth":1},"encoding":{"y":{"field":"v","type":"quantitative"},"x":{"value":0},"x2":{"value":4}}},
{"data":{"name":"ticks1"},"mark":{"type":"rule","stroke":"#000","strokeWidth":1},"encoding":{"y":{"field":"v","type":"quantitative"},"x":{"value":30},"x2":{"value":34}}},
{"data":{"name":"frame"},"mark":{"type":"rect","fill":null,"stroke":"#000","strokeWidth":1},"encoding":{"x":{"value":0},"x2":{"value":34},"y":{"value":0},"y2":{"value":410}}}]}
]},
{"spacing":11,"hconcat":[
{"width":435,"height":410,"title":{"text":"PFA derivative for first Euler angle fi=30o","dx":-16},"layer":[
{"data":{"name":"p2"},"transform":[{"window":[{"op":"row_number","as":"i"}]}],"mark":{"type":"line","stroke":"#000","strokeWidth":0.8,"clip":true,"strokeJoin":"miter"},"encoding":{"x":{"field":"x","type":"quantitative","scale":{"domain":[0,180],"nice":false},"title":"Second Euler angle (theta)","axis":{"values":[0,20,40,60,80,100,120,140,160,180],"grid":true,"gridColor":"#000","gridOpacity":1,"gridDash":[5,4],"gridWidth":0.8,"zindex":1,"domainColor":"#000","tickSize":-4,"tickColor":"#000","labelPadding":9,"titlePadding":8,"labelAngle":0,"labelFlush":false}},"y":{"field":"y","type":"quantitative","scale":{"domain":[0,180],"nice":false},"title":"Third Euler angle (psi)","axis":{"values":[0,20,40,60,80,100,120,140,160,180],"grid":true,"gridColor":"#000","gridOpacity":1,"gridDash":[5,4],"gridWidth":0.8,"zindex":1,"domainColor":"#000","tickSize":-4,"tickColor":"#000","labelPadding":5,"titlePadding":16}},"detail":{"field":"g"},"order":{"field":"i","type":"quantitative"},"fill":{"field":"v","type":"ordinal","legend":null,"scale":{"domain":[0,-0.125,-0.257,-0.391,-0.52,-0.6,-0.68,-0.76,-0.85,-0.938,-1.05,-1.2],"range":["#800000","#df0000","#ff4400","#ffaa00","#f2ff0d","#b5ff4a","#78ff87","#3bffc4","#00f6ff","#00b3ff","#005dff","#0000ed"]}}}},
{"data":{"name":"frame"},"mark":{"type":"rect","fill":null,"stroke":"#000","strokeWidth":1},"encoding":{"x":{"field":"a","type":"quantitative"},"x2":{"field":"b"},"y":{"field":"c","type":"quantitative"},"y2":{"field":"d"}}}]},
{"width":34,"height":410,"layer":[
{"data":{"name":"bar2"},"mark":{"type":"rect","height":7,"clip":true},"encoding":{"y":{"field":"v","type":"quantitative","scale":{"domain":[-1.34,0],"nice":false,"zero":false},"title":null,"axis":{"orient":"right","values":[0,-0.2,-0.4,-0.6,-0.8,-1,-1.2],"labelExpr":"toString(datum.value)","labelFontSize":15,"grid":false,"domainColor":"#000","ticks":false,"labelPadding":5,"zindex":1}},"fill":{"field":"v","type":"quantitative","legend":null,"scale":{"interpolate":"rgb","domain":[-1.34,-1.1725,-0.8375,-0.5025,-0.1675,0],"range":["#00008f","#0000ff","#00ffff","#ffff00","#ff0000","#800000"]}}}},
{"data":{"name":"ticks2"},"mark":{"type":"rule","stroke":"#000","strokeWidth":1},"encoding":{"y":{"field":"v","type":"quantitative"},"x":{"value":0},"x2":{"value":4}}},
{"data":{"name":"ticks2"},"mark":{"type":"rule","stroke":"#000","strokeWidth":1},"encoding":{"y":{"field":"v","type":"quantitative"},"x":{"value":30},"x2":{"value":34}}},
{"data":{"name":"frame"},"mark":{"type":"rect","fill":null,"stroke":"#000","strokeWidth":1},"encoding":{"x":{"value":0},"x2":{"value":34},"y":{"value":0},"y2":{"value":410}}}]}
]}
]}
